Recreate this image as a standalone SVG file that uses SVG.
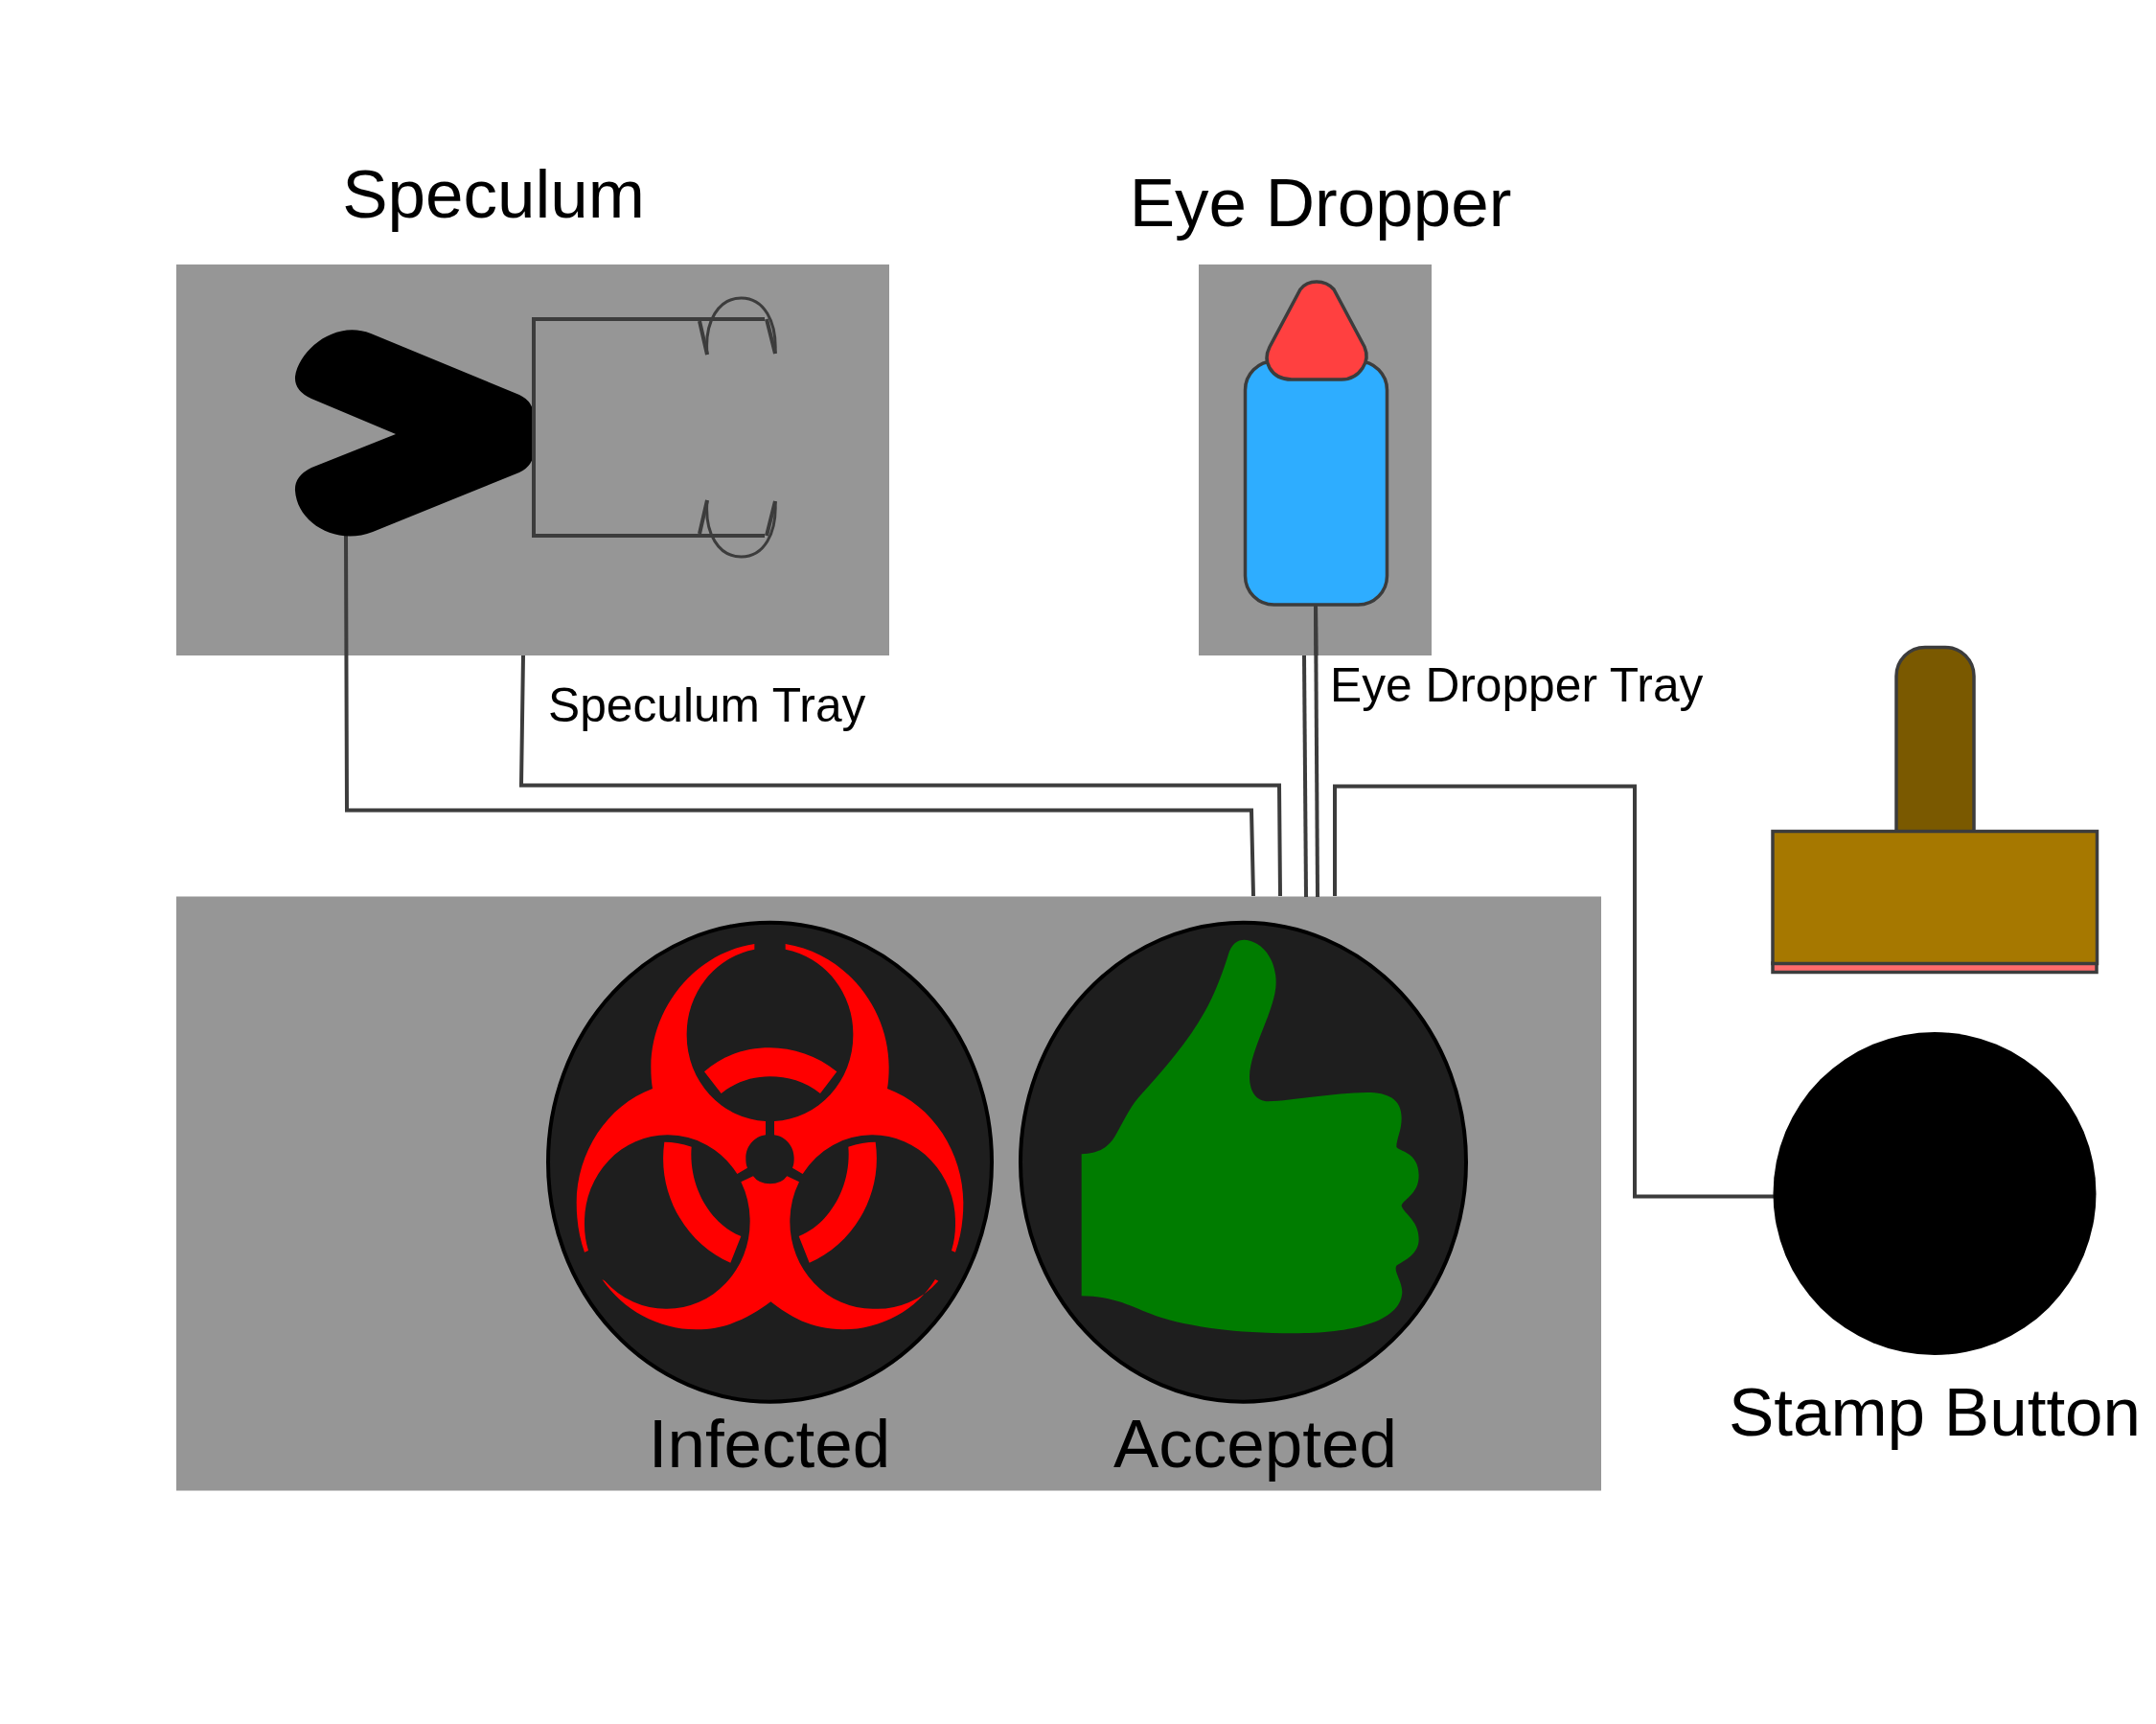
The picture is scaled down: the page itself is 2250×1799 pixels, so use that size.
<svg xmlns="http://www.w3.org/2000/svg" xmlns:xlink="http://www.w3.org/1999/xlink" width="2250" height="1799" viewBox="0 0 2250 1799">
<style>
text{font-family:"Liberation Sans",Arial,sans-serif;fill:#000}
.big{font-size:71px}
.small{font-size:49.700px}
.panel{fill:#969696}
.ln{fill:none;stroke:#3c3c3c;stroke-width:4}
.thin{fill:none;stroke:#3c3c3c;stroke-width:3}
.part{stroke:#3c3c3c;stroke-width:3.500}
.badge{fill:#1e1e1e;stroke:#000;stroke-width:4}
</style>
<defs>
<path id="bioLobe" d="M682 105C490 135 358 310 358 490Q358 530 363 558C220 610 125 760 125 915Q125 1000 150 1070L162 1065A259 272 0 0 1 150 975A259 272 0 0 1 409 703A259 272 0 0 1 628 825L660 806C655 795 655 785 655 775C655 740 680 708 717 703L717 660A260 269 0 0 1 470 391A260 269 0 0 1 682 122Z"/>
<path id="bioArc" d="M400 725Q440 725 485 740C475 860 540 980 640 1020L607 1103C480 1050 375 900 400 725Z"/>
</defs>
<rect width="2250" height="1799" fill="#fff"/>
<g id="speculum-tray"><rect class="panel" x="184" y="276" width="744" height="408"/></g>
<g id="dropper-tray"><rect class="panel" x="1251" y="276" width="243" height="408"/></g>
<g id="result-panel"><rect class="panel" x="184" y="935.500" width="1487" height="620"/></g>
<g id="connectors">
<path class="ln" d="M361 559L362 845.500H1306L1308 935"/>
<path class="ln" d="M546 684L544 819.500H1335L1336 935"/>
<path class="ln" d="M1361 684L1363 936"/>
<path class="ln" d="M1373 630L1375 936"/>
<path class="ln" d="M1393 935V820.500H1706V1248.500H1852"/>
</g>
<g id="speculum">
<path fill="#000" d="M387 348L542 412Q557 419 557 435V470Q557 486 542 493L389 555C350 570 310 545 308 512Q307 497 325 488L413 453L325 416Q307 408 308 393C312 365 350 333 387 348Z"/>
<path class="ln" d="M798 333H557V559H798"/>
<path class="thin" d="M738 370C735 335 750 311 773.600 311C797 311 811 335 809 369"/>
<path class="thin" d="M738 522C735 557 750 581 773.600 581C797 581 811 557 809 523"/>
<path class="ln" d="M730 335L738 370M800 333L809 369M738 522L730 557M809 523L800 559"/>
</g>
<g id="eye-dropper">
<rect class="part" x="1299.500" y="377" width="148" height="254" rx="30" ry="30" fill="#2eadff"/>
<path class="part" fill="#ff4040" d="M1357 302Q1363 294 1374 294Q1385 294 1392 302L1424 362Q1429 374 1422 384Q1414 396 1400 396H1348Q1332 396 1325 384Q1319 374 1325 362Z"/>
<path class="ln" d="M1373 630L1373.500 684"/>
</g>
<g id="infected">
<ellipse class="badge" cx="803.500" cy="1212.700" rx="231.500" ry="250"/>
<g transform="translate(560 950) scale(.33333)" fill="#f00">
<use xlink:href="#bioLobe" href="#bioLobe"/>
<use xlink:href="#bioLobe" href="#bioLobe" transform="translate(1461 0) scale(-1 1)"/>
<use xlink:href="#bioArc" href="#bioArc"/>
<use xlink:href="#bioArc" href="#bioArc" transform="translate(1461 0) scale(-1 1)"/>
<path d="M525 505C585 450 660 430 730 430C800 430 880 455 940 505L888 573C840 535 785 520 730 520C680 520 625 535 578 573Z"/>
<path d="M640 850L678 832Q695 856 731 856Q767 856 784 832L822 850A259 272 0 0 0 793 975A259 272 0 0 0 1052 1247A259 272 0 0 0 1258 1160L1248 1155C1190 1250 1080 1312 960 1312C860 1312 790 1270 733 1225C672 1270 600 1312 500 1312C380 1312 270 1250 205 1155L214 1160A259 272 0 0 0 409 1247A259 272 0 0 0 668 975A259 272 0 0 0 640 850Z"/>
</g>
</g>
<g id="accepted">
<ellipse class="badge" cx="1297.500" cy="1212.700" rx="232.500" ry="250"/>
<path transform="translate(1050 950) scale(.33333)" fill="#007c00" d="M236 763C290 760 320 745 345 700C365 665 385 620 415 585C500 490 570 410 620 320C650 270 680 190 695 140C705 105 725 92 745 92C800 95 845 150 845 225C845 310 765 430 762 520C762 570 785 598 820 598C900 595 1020 572 1130 570C1195 570 1238 590 1238 650C1238 690 1222 715 1222 740C1230 755 1292 755 1292 830C1292 890 1240 905 1238 925C1245 950 1292 970 1292 1030C1292 1075 1250 1095 1222 1112C1212 1130 1240 1160 1240 1195C1235 1290 1080 1324 900 1324C700 1324 560 1300 470 1270C390 1240 340 1208 236 1207Z"/>
</g>
<g id="stamp">
<rect class="part" x="1979" y="675.500" width="81" height="220" rx="30" ry="30" fill="#7a5900"/>
<rect class="part" x="1850" y="1005" width="338" height="9.500" fill="#ff6b6b"/>
<rect class="part" x="1850" y="867.500" width="338.500" height="138" fill="#a67800"/>
</g>
<g id="stamp-button"><circle cx="2019" cy="1245.500" r="168.500" fill="#000"/></g>
<text class="big" x="515" y="227" text-anchor="middle">Speculum</text>
<text class="big" x="1378" y="236" text-anchor="middle">Eye Dropper</text>
<text class="small" x="572" y="753">Speculum Tray</text>
<text class="small" x="1388" y="732">Eye Dropper Tray</text>
<text class="big" x="803" y="1531" text-anchor="middle">Infected</text>
<text class="big" x="1310" y="1531" text-anchor="middle">Accepted</text>
<text class="big" x="2019" y="1498" text-anchor="middle">Stamp Button</text>
</svg>
